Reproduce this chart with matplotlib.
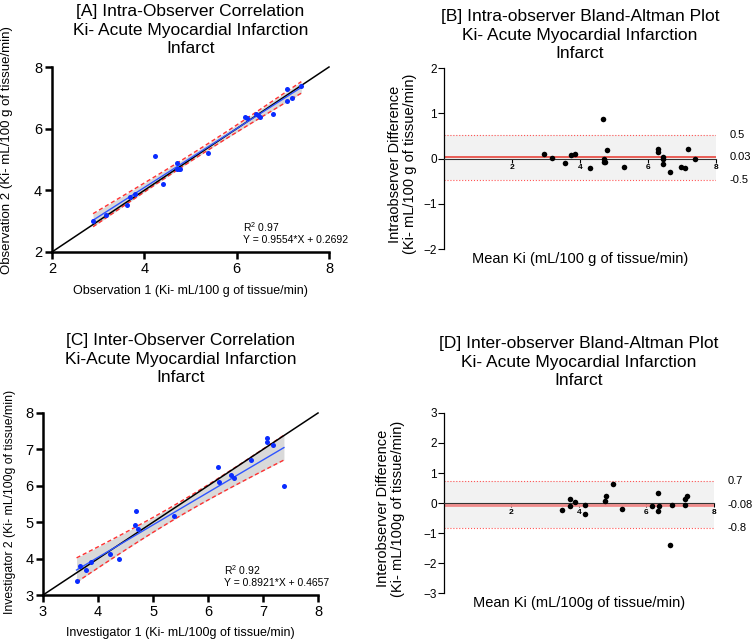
import numpy as np
import matplotlib
matplotlib.use("Agg")
import matplotlib.pyplot as plt

plt.rcParams['font.family'] = ['Liberation Sans', 'DejaVu Sans']
plt.rcParams['mathtext.fontset'] = 'custom'
plt.rcParams['mathtext.rm'] = 'Liberation Sans'

# Intra-observer readings (panel A / B)
obs1 = [2.89, 3.18, 3.62, 3.70, 3.79, 4.24, 4.40, 4.70, 4.70, 4.75, 4.77,
        5.39, 6.19, 6.22, 6.42, 6.46, 6.50, 6.79, 7.08, 7.08, 7.20, 7.40]
obs2 = [2.99, 3.19, 3.52, 3.78, 3.89, 5.11, 4.19, 4.89, 4.70, 4.68, 4.70,
        5.20, 6.39, 6.36, 6.46, 6.44, 6.39, 6.49, 7.29, 6.89, 6.99, 7.38]
intra_fit = (0.9554, 0.2692)
intra_r2 = "0.97"
intra_bias = 0.03
intra_loa = (-0.48, 0.52)
intra_labels = ["0.5", "0.03", "-0.5"]

# Inter-observer readings (panel C / D)
inv1 = [3.61, 3.68, 3.78, 3.88, 4.22, 4.38, 4.69, 4.68, 4.73, 5.38,
        6.18, 6.20, 6.41, 6.48, 6.78, 7.08, 7.08, 7.18, 7.38]
inv2 = [3.39, 3.80, 3.69, 3.90, 4.14, 4.00, 5.31, 4.91, 4.80, 5.17,
        6.51, 6.10, 6.31, 6.22, 6.72, 7.30, 7.21, 7.11, 5.99]
inter_fit = (0.8921, 0.4657)
inter_r2 = "0.92"
inter_bias = -0.08
inter_loa = (-0.82, 0.72)
inter_labels = ["0.7", "-0.08", "-0.8"]

T95 = 2.09


def correlation_panel(ax, x, y, fit, r2, lim, ticks, title, xlabel, ylabel, pad, stats_xy,
                      label_size, ylab_xy):
    x = np.array(x)
    y = np.array(y)
    slope, icpt = fit
    n = len(x)
    xs = np.linspace(x.min(), x.max(), 100)
    yhat = slope * xs + icpt
    resid = y - (slope * x + icpt)
    s = np.sqrt(np.sum(resid ** 2) / (n - 2))
    sxx = np.sum((x - x.mean()) ** 2)
    half = T95 * s * np.sqrt(1 / n + (xs - x.mean()) ** 2 / sxx)

    # confidence band of the fitted line
    ax.fill_between(xs, yhat - half, yhat + half, color='#d9d9d9', lw=0, zorder=1)
    ax.plot(xs, yhat + half, color='#ff3030', lw=1, ls=(0, (3, 2)), zorder=2)
    ax.plot(xs, yhat - half, color='#ff3030', lw=1, ls=(0, (3, 2)), zorder=2)
    ax.plot(lim, lim, color='black', lw=1.1, zorder=3, clip_on=False)
    ax.plot(xs, yhat, color='#2f55ff', lw=1, zorder=4)
    ax.scatter(x, y, s=13, color='#0a2cff', zorder=5, linewidths=0)

    ax.set_xlim(lim)
    ax.set_ylim(lim)
    ax.set_xticks(ticks)
    ax.set_yticks(ticks)
    for side in ['top', 'right']:
        ax.spines[side].set_visible(False)
    for side in ['left', 'bottom']:
        ax.spines[side].set_linewidth(1.8)
    ax.tick_params(width=1.8, length=5, labelsize=10.5, pad=2)
    ax.set_title(title, fontsize=12.5, pad=pad, linespacing=1.3)
    ax.set_xlabel(xlabel, fontsize=9)
    ax.xaxis.set_label_coords(0.5, -0.178)
    ax.set_ylabel(ylabel, fontsize=label_size)
    ax.yaxis.set_label_coords(*ylab_xy)
    ax.text(stats_xy[0], stats_xy[1], "R$^2$ " + r2, transform=ax.transAxes, fontsize=7.5, va='center')
    ax.text(stats_xy[0], stats_xy[1] - 0.07, "Y = %.4f*X + %.4f" % fit, transform=ax.transAxes,
            fontsize=7.5, va='center')


def bland_altman_panel(ax, a, b, bias, loa, labels, ylim, yticks, title, ylabel, pad,
                       mean_color, mean_lw, ylab_x):
    a = np.array(a)
    b = np.array(b)
    means = (a + b) / 2
    diffs = b - a
    xlim = (0, 8)

    # limits of agreement band
    ax.fill_between(xlim, loa[0], loa[1], color='#f2f2f2', lw=0, zorder=0)
    for v in loa:
        ax.axhline(v, color='#ff5555', lw=0.8, ls=':', zorder=1)
    ax.axhline(bias, color=mean_color, lw=mean_lw, zorder=2)
    ax.scatter(means, diffs, s=16, color='black', zorder=5, linewidths=0)

    ax.set_xlim(xlim)
    ax.set_ylim(ylim)
    ax.set_xticks([2, 4, 6, 8])
    ax.set_yticks(yticks)
    ax.spines['top'].set_visible(False)
    ax.spines['right'].set_visible(False)
    ax.spines['bottom'].set_position(('data', 0))
    ax.spines['bottom'].set_color('#333333')
    ax.spines['bottom'].set_zorder(3)
    ax.spines['left'].set_linewidth(0.9)
    ax.tick_params(axis='x', length=3, width=0.8, labelsize=6, pad=1)
    ax.tick_params(axis='y', length=4, width=0.8, labelsize=8.5, pad=1)
    for lab in ax.get_xticklabels():
        lab.set_fontweight('bold')

    for v, txt in zip([loa[1], bias, loa[0]], labels):
        ax.text(1.05, v, txt, transform=ax.get_yaxis_transform(), fontsize=8, va='center')

    ax.set_title(title, fontsize=12.5, pad=pad, linespacing=1.3)
    ax.set_xlabel(ylabel[1], fontsize=10.5)
    ax.xaxis.set_label_coords(0.5, -0.015)
    ax.set_ylabel(ylabel[0], fontsize=10.5, linespacing=1.1)
    ax.yaxis.set_label_coords(ylab_x, 0.47)


fig = plt.figure(figsize=(7.52, 6.4), dpi=100)
ax_a = fig.add_axes([0.0691, 0.6063, 0.3684, 0.289])
ax_b = fig.add_axes([0.5904, 0.6109, 0.3617, 0.2828])
ax_c = fig.add_axes([0.0572, 0.0703, 0.3657, 0.2844])
ax_d = fig.add_axes([0.5904, 0.0734, 0.3590, 0.2813])

correlation_panel(ax_a, obs1, obs2, intra_fit, intra_r2, (2, 8), [2, 4, 6, 8],
                  "[A] Intra-Observer Correlation\nKi- Acute Myocardial Infarction\nInfarct",
                  "Observation 1 (Ki- mL/100 g of tissue/min)",
                  "Observation 2 (Ki- mL/100 g of tissue/min)", 10, (0.69, 0.135), 9.5, (-0.141, 0.55))

correlation_panel(ax_c, inv1, inv2, inter_fit, inter_r2, (3, 8), [3, 4, 5, 6, 7, 8],
                  "[C] Inter-Observer Correlation\nKi-Acute Myocardial Infarction\nInfarct",
                  "Investigator 1 (Ki- mL/100g of tissue/min)",
                  "Investigator 2 (Ki- mL/100g of tissue/min)", 22, (0.658, 0.137), 8.8, (-0.10, 0.51))

bland_altman_panel(ax_b, obs1, obs2, intra_bias, intra_loa, intra_labels, (-2, 2), [-2, -1, 0, 1, 2],
                   "[B] Intra-observer Bland-Altman Plot\nKi- Acute Myocardial Infarction\nInfarct",
                   ("Intraobserver Difference\n(Ki- mL/100 g of tissue/min)",
                    "Mean Ki (mL/100 g of tissue/min)"), 7, '#e8453c', 1.2, -0.10)

bland_altman_panel(ax_d, inv1, inv2, inter_bias, inter_loa, inter_labels, (-3, 3), [-3, -2, -1, 0, 1, 2, 3],
                   "[D] Inter-observer Bland-Altman Plot\nKi- Acute Myocardial Infarction\nInfarct",
                   ("Interobserver Difference\n(Ki- mL/100g of tissue/min)",
                    "Mean Ki (mL/100g of tissue/min)"), 20, '#f08a8a', 2.0, -0.145)

fig.savefig("out.png", dpi=100)
